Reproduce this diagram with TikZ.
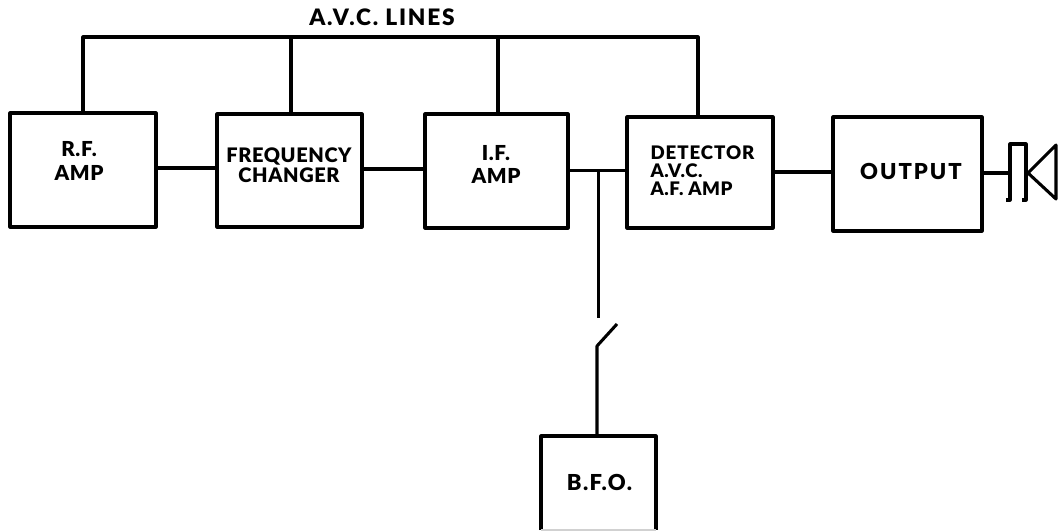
\documentclass[tikz,border=0pt]{standalone}
\usepackage{fontspec}
\setmainfont{Lato}[BoldFont={Lato Black},LetterSpace=3]
\tikzset{
  block/.style={line width=2.3pt,inner sep=0pt,outer sep=0pt,anchor=north west,line join=round},
  boxed/.style={block,draw=black},
  caption/.style 2 args={inner sep=0pt,align=center,text=black,font=\bfseries\fontsize{#1}{#2}\selectfont},
  wire/.style={draw=black,line width=2.3pt,line join=round},
}
\begin{document}
\begin{tikzpicture}[x=0.75pt,y=-0.75pt]
\useasboundingbox (0,0) rectangle (1064,531);
\node[boxed,minimum width=146*0.75pt,minimum height=114*0.75pt] (rf) at (10,113) {};
\node[boxed,minimum width=145*0.75pt,minimum height=113*0.75pt] (fc) at (217,114) {};
\node[boxed,minimum width=143*0.75pt,minimum height=114*0.75pt] (if) at (425,114) {};
\node[boxed,minimum width=146*0.75pt,minimum height=111*0.75pt] (det) at (627,117) {};
\node[boxed,minimum width=149*0.75pt,minimum height=114*0.75pt] (out) at (833,117) {};
\node[block,minimum width=115*0.75pt,minimum height=94*0.75pt] (bfo) at (541,436) {};
\node[caption={15.5}{18.5}] (rfl) at (79,161) {R.F.\\AMP};
\node[caption={15}{15}] (fcl) at (289,165.5) {FREQUENCY\\CHANGER};
\node[caption={15.5}{17.5}] (ifl) at (496,164.5) {I.F.\\AMP};
\node[caption={14}{13.5},align=left] (detl) at (702.5,171) {\addfontfeature{LetterSpace=5}DETECTOR\\A.V.C.\\A.F. AMP};
\node[caption={16.5}{17}] (outl) at (911,171.5) {\addfontfeature{LetterSpace=9}OUTPUT};
\node[caption={16.5}{17}] (bfol) at (599.5,482.5) {\addfontfeature{LetterSpace=6}B.F.O.};
\node[caption={17}{17}] (avc) at (382,17.5) {\addfontfeature{LetterSpace=8}A.V.C. LINES};
% AVC bus
\coordinate (bus) at (0,37);
\coordinate (t1) at (83,0);
\coordinate (t2) at (291,0);
\coordinate (t3) at (498,0);
\coordinate (t4) at (698,0);
\draw[wire] (t1 |- rf.north) -- (t1 |- bus) -- (t4 |- bus) -- (t4 |- det.north);
\draw[wire] (t2 |- bus) -- (t2 |- fc.north);
\draw[wire] (t3 |- bus) -- (t3 |- if.north);
% signal chain
\coordinate (w1) at (0,168);
\coordinate (w2) at (0,169);
\coordinate (w3) at (0,170.5);
\coordinate (w4) at (0,172);
\coordinate (w5) at (0,173);
\draw[wire] (rf.east |- w1) -- (fc.west |- w1);
\draw[wire] (fc.east |- w2) -- (if.west |- w2);
\draw[wire] (if.east |- w3) -- (det.west |- w3);
\draw[wire] (det.east |- w4) -- (out.west |- w4);
% BFO branch and switch
\coordinate (j) at (598.5,170.5);
\coordinate (s1) at (598.5,318);
\coordinate (s2) at (597,346);
\coordinate (s3) at (617,324);
\draw[wire] (j) -- (s1);
\draw[wire] (s3) -- (s2) -- (s2 |- bfo.north);
\draw[wire] (bfo.south west) -- (bfo.north west) -- (bfo.north east) -- (bfo.south east);
\draw[draw=black!18,line width=1pt] (bfo.south west) -- (bfo.south east);
% loudspeaker
\coordinate (c1) at (1010,200);
\coordinate (c2) at (1010,144);
\coordinate (c3) at (1026,144);
\coordinate (c4) at (1026,200);
\coordinate (a) at (1028,173);
\coordinate (b) at (1056,145);
\coordinate (d) at (1056,199);
\draw[wire] (out.east |- w5) -- (c1 |- w5);
\draw[wire] (1006,200) -- (c1) -- (c2) -- (c3) -- (c4) -- (1022,200);
\draw[wire] (a) -- (b) -- (d) -- cycle;
\end{tikzpicture}
\end{document}
